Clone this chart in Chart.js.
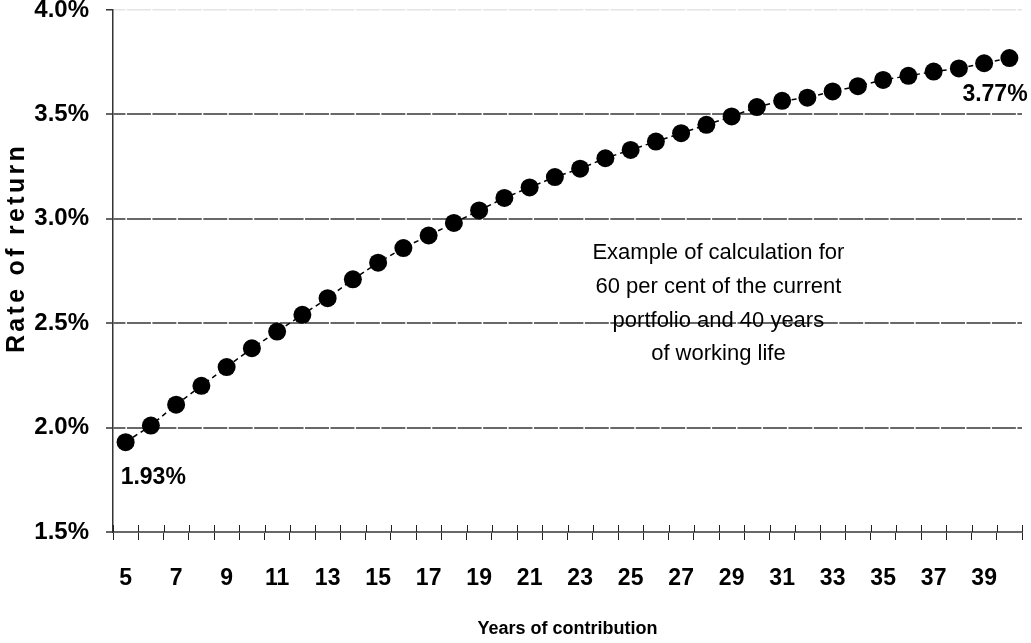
<!DOCTYPE html>
<html>
<head>
<meta charset="utf-8">
<script src="https://cdn.jsdelivr.net/npm/chart.js@4/dist/chart.umd.min.js"></script>
<style>
html,body{margin:0;padding:0;background:#fff;}
#wrap{width:1031px;height:643px;position:relative;}
</style>
</head>
<body>
<div id="wrap"><canvas id="c" width="1031" height="643"></canvas></div>
<script>
// ---- data ----
const years = [5,6,7,8,9,10,11,12,13,14,15,16,17,18,19,20,21,22,23,24,25,26,27,28,29,30,31,32,33,34,35,36,37,38,39,40];
const rates = [1.93,2.01,2.11,2.20,2.29,2.38,2.46,2.54,2.62,2.71,2.79,2.86,2.92,2.98,3.04,3.10,3.15,3.20,3.24,3.29,3.33,3.37,3.41,3.45,3.49,3.535,3.565,3.58,3.61,3.635,3.665,3.685,3.705,3.72,3.745,3.77];
const yTickValues = [1.5,2.0,2.5,3.0,3.5,4.0];
const firstPointLabel = '1.93%';
const lastPointLabel = '3.77%';
const noteLines = ['Example of calculation for','60 per cent of the current','portfolio and 40 years','of working life'];
const yTitle = 'Rate of return';
const xTitle = 'Years of contribution';

const FAM = '"Liberation Sans", Arial, Helvetica, sans-serif';
const GRID = '#686868';

const extras = {
  id: 'extras',
  afterDraw(chart) {
    const ctx = chart.ctx;
    const ca = chart.chartArea;
    const ys = chart.scales.y;
    ctx.save();
    // upward part of x tick marks
    const n = years.length;
    ctx.strokeStyle = '#222';
    ctx.lineWidth = 1;
    for (let k = 0; k <= n; k++) {
      const x = Math.round(ca.left + k * ca.width / n) + 0.5;
      ctx.beginPath();
      ctx.moveTo(x, ca.bottom - 7);
      ctx.lineTo(x, ca.bottom);
      ctx.stroke();
    }
    // point labels
    const meta = chart.getDatasetMeta(0);
    const p0 = meta.data[0];
    const pN = meta.data[meta.data.length - 1];
    ctx.fillStyle = '#000';
    ctx.font = 'bold 23px ' + FAM;
    ctx.textBaseline = 'middle';
    ctx.textAlign = 'left';
    ctx.fillText(firstPointLabel, p0.x - 5, p0.y + 35);
    ctx.fillText(lastPointLabel, pN.x - 47, pN.y + 37);
    // note
    ctx.font = '22px ' + FAM;
    ctx.textAlign = 'center';
    const cx = ca.left + ca.width * 0.666;
    const y0 = ys.getPixelForValue(2.836);
    noteLines.forEach((t, i) => ctx.fillText(t, cx, y0 + i * 33.7));
    // y title
    ctx.font = 'bold 25px ' + FAM;
    ctx.translate(17, 248);
    ctx.rotate(-Math.PI / 2);
    try { ctx.letterSpacing = '3.3px'; } catch (e) {}
    ctx.textAlign = 'center';
    ctx.fillText(yTitle, 0, 0);
    ctx.restore();
  }
};

new Chart(document.getElementById('c'), {
  type: 'line',
  data: {
    labels: years,
    datasets: [{
      data: rates,
      borderColor: '#000',
      borderWidth: 1.5,
      borderDash: [5, 4],
      pointRadius: 9,
      pointHoverRadius: 9,
      pointBackgroundColor: '#000',
      pointBorderWidth: 0,
      tension: 0,
      clip: false
    }]
  },
  options: {
    responsive: false,
    devicePixelRatio: 1,
    animation: false,
    events: [],
    layout: { padding: { top: 10, right: 2, left: 0, bottom: 0 } },
    plugins: { legend: { display: false }, tooltip: { enabled: false } },
    scales: {
      x: {
        type: 'category',
        offset: true,
        afterFit(s) { s.height = 111; s.paddingLeft = 0; s.paddingRight = 0; },
        grid: { offset: true, drawOnChartArea: false, drawTicks: true, tickLength: 8, color: '#222', lineWidth: 1 },
        border: { display: true, color: GRID, width: 2 },
        ticks: {
          autoSkip: false, maxRotation: 0, minRotation: 0, padding: 25,
          color: '#000',
          font: { family: FAM, size: 23, weight: 'bold' },
          callback(v, i) { return i % 2 === 0 ? String(years[i]) : ''; }
        },
        title: { display: true, text: xTitle, color: '#000', font: { family: FAM, size: 18, weight: 'bold' }, padding: { top: 0, bottom: 3 } }
      },
      y: {
        min: 1.5, max: 4.0,
        afterFit(s) { s.width = 113; s.paddingTop = 0; s.paddingBottom = 0; },
        afterBuildTicks(s) { s.ticks = yTickValues.map(v => ({ value: v })); },
        grid: {
          drawTicks: true, tickLength: 7,
          color(c) { const v = c.tick && c.tick.value; if (v === 4.0) return '#e4e4e4'; if (v === 1.5) return 'rgba(0,0,0,0)'; return GRID; },
          lineWidth(c) { const v = c.tick && c.tick.value; return v === 4.0 ? 1.5 : 2; },
          tickColor: '#333', tickWidth: 1.5
        },
        border: { display: true, color: '#333', width: 1.5, dash: [23.94, 1.5], dashOffset: 11.97 },
        ticks: {
          padding: 17, color: '#000',
          font: { family: FAM, size: 24, weight: 'bold' },
          callback(v) { return Number(v).toFixed(1) + '%'; }
        }
      }
    }
  },
  plugins: [extras]
});
</script>
</body>
</html>
